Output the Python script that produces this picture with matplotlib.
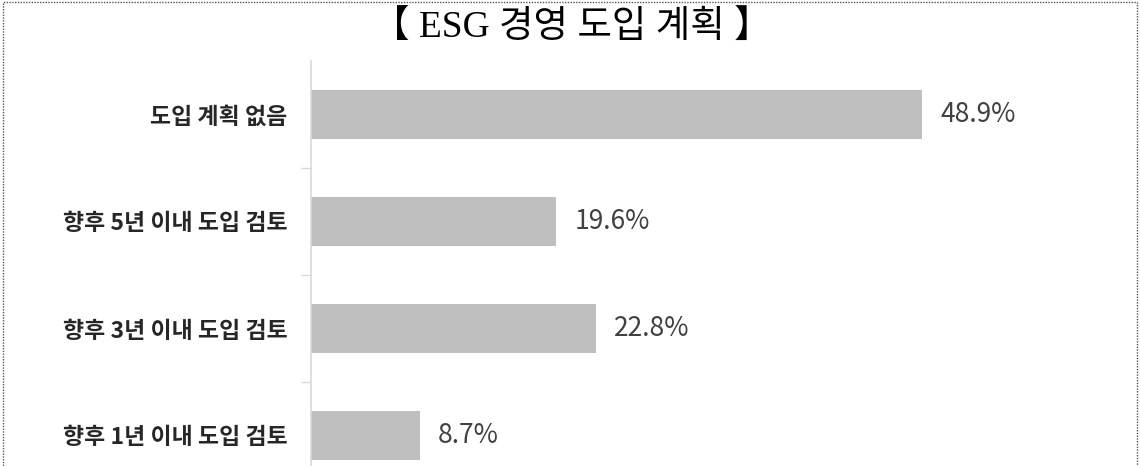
import numpy as np
import matplotlib
matplotlib.use('Agg')
import matplotlib.pyplot as plt
from matplotlib.patches import Rectangle

plt.rcParams['font.family'] = ['Noto Sans CJK KR', 'DejaVu Sans']

# 데이터 (위에서 아래 순서)
categories = ['도입 계획 없음', '향후 5년 이내 도입 검토', '향후 3년 이내 도입 검토', '향후 1년 이내 도입 검토']
values = [48.9, 19.6, 22.8, 8.7]
value_labels = ['48.9%', '19.6%', '22.8%', '8.7%']
title = '【 ESG 경영 도입 계획 】'

W, H = 1140, 466
fig = plt.figure(figsize=(W / 100, H / 100), dpi=100)

# 축 위치 (픽셀 기준, 아래쪽은 그림 밖으로 잘림)
left, right = 311, 1100
top, bottom = 61, 489
ax = fig.add_axes([left / W, (H - bottom) / H, (right - left) / W, (bottom - top) / H])

y = np.arange(len(categories))
ax.barh(y, values, height=0.46, color='#bfbfbf')
ax.set_ylim(len(categories) - 0.5, -0.5)
ax.set_xlim(0, (right - left) / 12.5)

for yi, v, lab in zip(y, values, value_labels):
    ax.text(v + 1.45, yi, lab, va='center', ha='left', fontsize=19, color='#404040')

ax.set_yticks(y)
ax.set_yticklabels(categories, fontsize=16.5, fontweight='bold', color='#262626')
ax.tick_params(axis='y', which='major', length=0, pad=17)
ax.set_yticks(np.arange(0.5, len(categories) - 0.5), minor=True)
ax.tick_params(axis='y', which='minor', length=7, color='#d9d9d9', width=1)
ax.set_xticks([])

for s in ['top', 'right', 'bottom']:
    ax.spines[s].set_visible(False)
ax.spines['left'].set_color('#d9d9d9')
ax.spines['left'].set_linewidth(1.2)

fig.text(572 / W, 1 - 28 / H, title, ha='center', va='center', fontsize=27,
         family=['Liberation Serif', 'Noto Sans CJK KR'], color='black')

# 점선 테두리
fig.patches.append(Rectangle((3 / W, -0.1), (1137 - 3) / W, 1.1 - 2 / H, transform=fig.transFigure,
                             fill=False, linestyle=(0, (1, 1)), linewidth=1, edgecolor='#555555'))

fig.savefig('out.png', dpi=100)
